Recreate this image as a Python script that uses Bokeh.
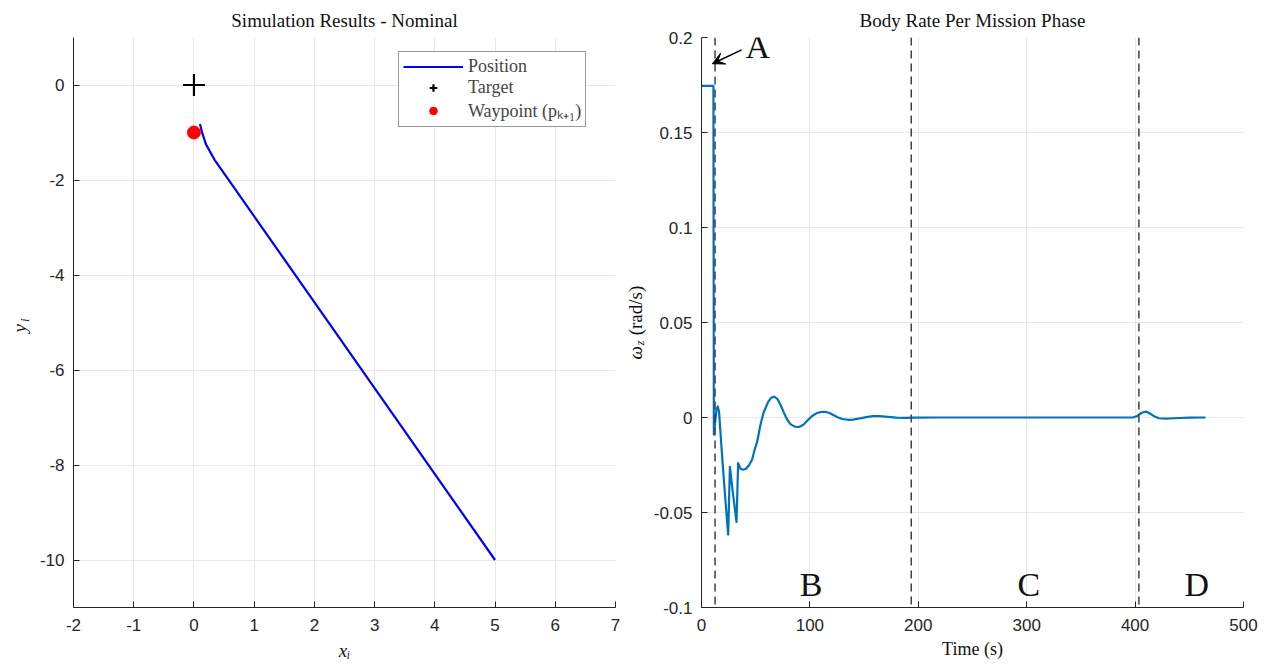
import math
from bokeh.plotting import figure
from bokeh.layouts import row
from bokeh.models import Legend, LegendItem, Label, Arrow, VeeHead, Span, FixedTicker, Range1d
from bokeh.core.properties import value
from bokeh.embed import file_html
from bokeh.resources import INLINE

# ---------------- Left chart data ----------------
pos_x = [5.0, 0.34, 0.2, 0.14, 0.1]
pos_y = [-10.0, -1.57, -1.25, -1.02, -0.82]
target_x = [0.0]
target_y = [0.0]
waypoint_x = [0.0]
waypoint_y = [-1.0]
left_xticks = [-2, -1, 0, 1, 2, 3, 4, 5, 6, 7]
left_yticks = [0, -2, -4, -6, -8, -10]

# ---------------- Right chart data ----------------
time_s = [0, 11.0, 11.4, 12.5, 13.8, 15.0, 16.2, 18, 20, 22, 24.6, 26.2, 29, 32.3, 33.8, 36,
          38.4, 41, 44, 46.8, 49, 51.4, 54.4, 57, 59, 61.5, 64, 67, 70, 73, 76, 79, 82, 86,
          90, 94, 98, 102, 106, 110, 114, 118, 122, 126, 130, 135, 140, 146, 152, 158, 164,
          172, 180, 188, 195, 220, 300, 398, 402, 406, 410, 414, 418, 422, 428, 436, 450, 465]
omega_z = [0.1745, 0.1745, -0.009, -0.003, 0.004, 0.0058, 0.003, -0.012, -0.028, -0.043,
           -0.0616, -0.026, -0.040, -0.055, -0.024, -0.027, -0.0275, -0.027, -0.025, -0.022,
           -0.017, -0.0126, -0.0038, 0.002, 0.0049, 0.0082, 0.0102, 0.011, 0.0098, 0.0066,
           0.0025, -0.001, -0.0035, -0.0048, -0.0050, -0.0038, -0.0015, 0.0008, 0.0022,
           0.0029, 0.003, 0.0024, 0.0012, 0.0, -0.0008, -0.0012, -0.0011, -0.0005, 0.0002,
           0.0007, 0.0007, 0.0003, -0.0001, -0.0002, -0.0001, 0.0, 0.0, 0.0, 0.0008, 0.0025,
           0.0031, 0.002, 0.0005, -0.0004, -0.0006, -0.0004, -0.0001, 0.0]
phase_times = [12.5, 193.5, 403.5]
phase_letters = ["B", "C", "D"]
phase_letter_t = [101, 302, 457]
phase_letter_y = -0.088
right_xticks = [0, 100, 200, 300, 400, 500]
right_yticks = [-0.1, -0.05, 0, 0.05, 0.1, 0.15, 0.2]
right_ytick_labels = ["-0.1", "-0.05", "0", "0.05", "0.1", "0.15", "0.2"]

SERIF = "Liberation Serif"
SANS = "Liberation Sans"
AX = "#262626"
TXT = "#111111"
H = 665
TOP = 37
BOT = 58


def style(p):
    p.outline_line_color = None
    p.background_fill_color = "white"
    p.border_fill_color = "white"
    for ax in (p.xaxis[0], p.yaxis[0]):
        ax.axis_line_color = AX
        ax.axis_line_width = 1
        ax.major_tick_line_color = AX
        ax.major_tick_in = 6
        ax.major_tick_out = 0
        ax.minor_tick_line_color = None
        ax.major_label_text_font = SANS
        ax.major_label_text_font_size = "17px"
        ax.major_label_text_color = AX
    p.xaxis.major_label_standoff = 11
    p.yaxis.major_label_standoff = 9
    p.grid.grid_line_color = "#e8e8e8"
    p.grid.grid_line_width = 1
    p.title.text_font = SERIF
    p.title.text_font_style = "normal"
    p.title.text_font_size = "19px"
    p.title.text_color = TXT
    p.title.align = "center"
    p.title.standoff = 13


def label_fig(width, x_range, y_range):
    f = figure(width=width, height=H, x_range=x_range, y_range=y_range,
               output_backend="svg", toolbar_location=None,
               x_axis_location=None, y_axis_location=None,
               min_border_left=0, min_border_right=0, min_border_top=TOP, min_border_bottom=BOT)
    f.grid.visible = False
    f.outline_line_color = None
    f.border_fill_color = "white"
    return f


# ---------------- Left figure ----------------
pl = figure(width=587, height=H, x_range=(-2, 7), y_range=(-11, 1),
            output_backend="svg", toolbar_location=None,
            title="Simulation Results - Nominal",
            min_border_left=36, min_border_right=8, min_border_top=TOP, min_border_bottom=BOT)
style(pl)
pl.xaxis.ticker = FixedTicker(ticks=left_xticks)
pl.yaxis.ticker = FixedTicker(ticks=left_yticks)
pl.xaxis.major_label_overrides = {t: str(t) for t in left_xticks}
pl.yaxis.major_label_overrides = {t: str(t) for t in left_yticks}
pl.xaxis.axis_label = "xᵢ"
pl.xaxis.axis_label_text_font = SERIF
pl.xaxis.axis_label_text_font_style = "italic"
pl.xaxis.axis_label_text_font_size = "19px"
pl.xaxis.axis_label_text_color = TXT
pl.xaxis.axis_label_standoff = 6

r_pos = pl.line(pos_x, pos_y, line_color="#0000ff", line_width=2.2)
r_tgt = pl.scatter(target_x, target_y, marker="cross", size=22, line_color="black", line_width=2.2)
r_wp = pl.scatter(waypoint_x, waypoint_y, marker="circle", size=13, fill_color="#ff0000",
                  line_color="#ff0000")

legend = Legend(items=[LegendItem(label="Position", renderers=[r_pos]),
                       LegendItem(label="Target", renderers=[r_tgt]),
                       LegendItem(label="Waypoint (pₖ₊₁)", renderers=[r_wp])],
                location=(325, 480), label_text_font=SERIF, label_text_font_size="18px",
                label_height=19, glyph_height=19, glyph_width=60, spacing=0, padding=4,
                margin=0, label_standoff=5, border_line_color="#333333", border_line_width=1,
                background_fill_alpha=1)
pl.add_layout(legend, "center")

# y-axis label of left chart (y_i), drawn in a narrow strip figure
ylab = label_fig(36, Range1d(0, 36), pl.y_range)
ylab.text(x=[19], y=[-5.12], text=["y"], angle=math.pi / 2, text_font=value(SERIF),
          text_font_style="italic", text_font_size="19px", text_align="center",
          text_baseline="middle", text_color=TXT)
ylab.text(x=[23.5], y=[-4.95], text=["i"], angle=math.pi / 2, text_font=value(SERIF),
          text_font_style="italic", text_font_size="13px", text_align="center",
          text_baseline="middle", text_color=TXT)

# ---------------- Right figure ----------------
pr = figure(width=618, height=H, x_range=(0, 500), y_range=(-0.1, 0.2),
            output_backend="svg", toolbar_location=None,
            title="Body Rate Per Mission Phase",
            min_border_left=52, min_border_right=24, min_border_top=TOP, min_border_bottom=BOT)
style(pr)
pr.xaxis.ticker = FixedTicker(ticks=right_xticks)
pr.yaxis.ticker = FixedTicker(ticks=right_yticks)
pr.yaxis.major_label_overrides = dict(zip(right_yticks, right_ytick_labels))
pr.xaxis.axis_label = "Time (s)"
pr.xaxis.axis_label_text_font = SERIF
pr.xaxis.axis_label_text_font_style = "normal"
pr.xaxis.axis_label_text_font_size = "18px"
pr.xaxis.axis_label_text_color = TXT
pr.xaxis.axis_label_standoff = 5

for tp in phase_times:
    pr.add_layout(Span(location=tp, dimension="height", line_color="#404040",
                       line_dash="8 5", line_width=1.5))

pr.line(time_s, omega_z, line_color="#0072bd", line_width=2.2, line_join="round")

for letter, tl in zip(phase_letters, phase_letter_t):
    pr.add_layout(Label(x=tl, y=phase_letter_y, text=letter, text_font=SERIF,
                        text_font_size="34px", text_align="center", text_baseline="middle",
                        text_color=TXT))

pr.add_layout(Arrow(end=VeeHead(size=12, fill_color="black", line_color="black"),
                    x_start=37, y_start=0.1935, x_end=10, y_end=0.1862,
                    line_color="black", line_width=1.5))
pr.add_layout(Label(x=52, y=0.1955, text="A", text_font=SERIF, text_font_size="34px",
                    text_align="center", text_baseline="middle", text_color=TXT))

# y-axis label of right chart (omega_z (rad/s)), drawn in a narrow strip figure
wlab = label_fig(26, Range1d(623, 649), pr.y_range)
wlab.text(x=[635], y=[0.0340], text=["ω"], angle=math.pi / 2, text_font=value(SERIF),
          text_font_style="italic", text_font_size="19px", text_align="center",
          text_baseline="middle", text_color=TXT)
wlab.text(x=[638.5], y=[0.0392], text=["z"], angle=math.pi / 2, text_font=value(SERIF),
          text_font_style="italic", text_font_size="13px", text_align="center",
          text_baseline="middle", text_color=TXT)
wlab.text(x=[635], y=[0.0563], text=["(rad/s)"], angle=math.pi / 2, text_font=value(SERIF),
          text_font_size="19px", text_align="center", text_baseline="middle", text_color=TXT)

layout = row(ylab, pl, wlab, pr)
open("out.html", "w").write(file_html(layout, INLINE))
